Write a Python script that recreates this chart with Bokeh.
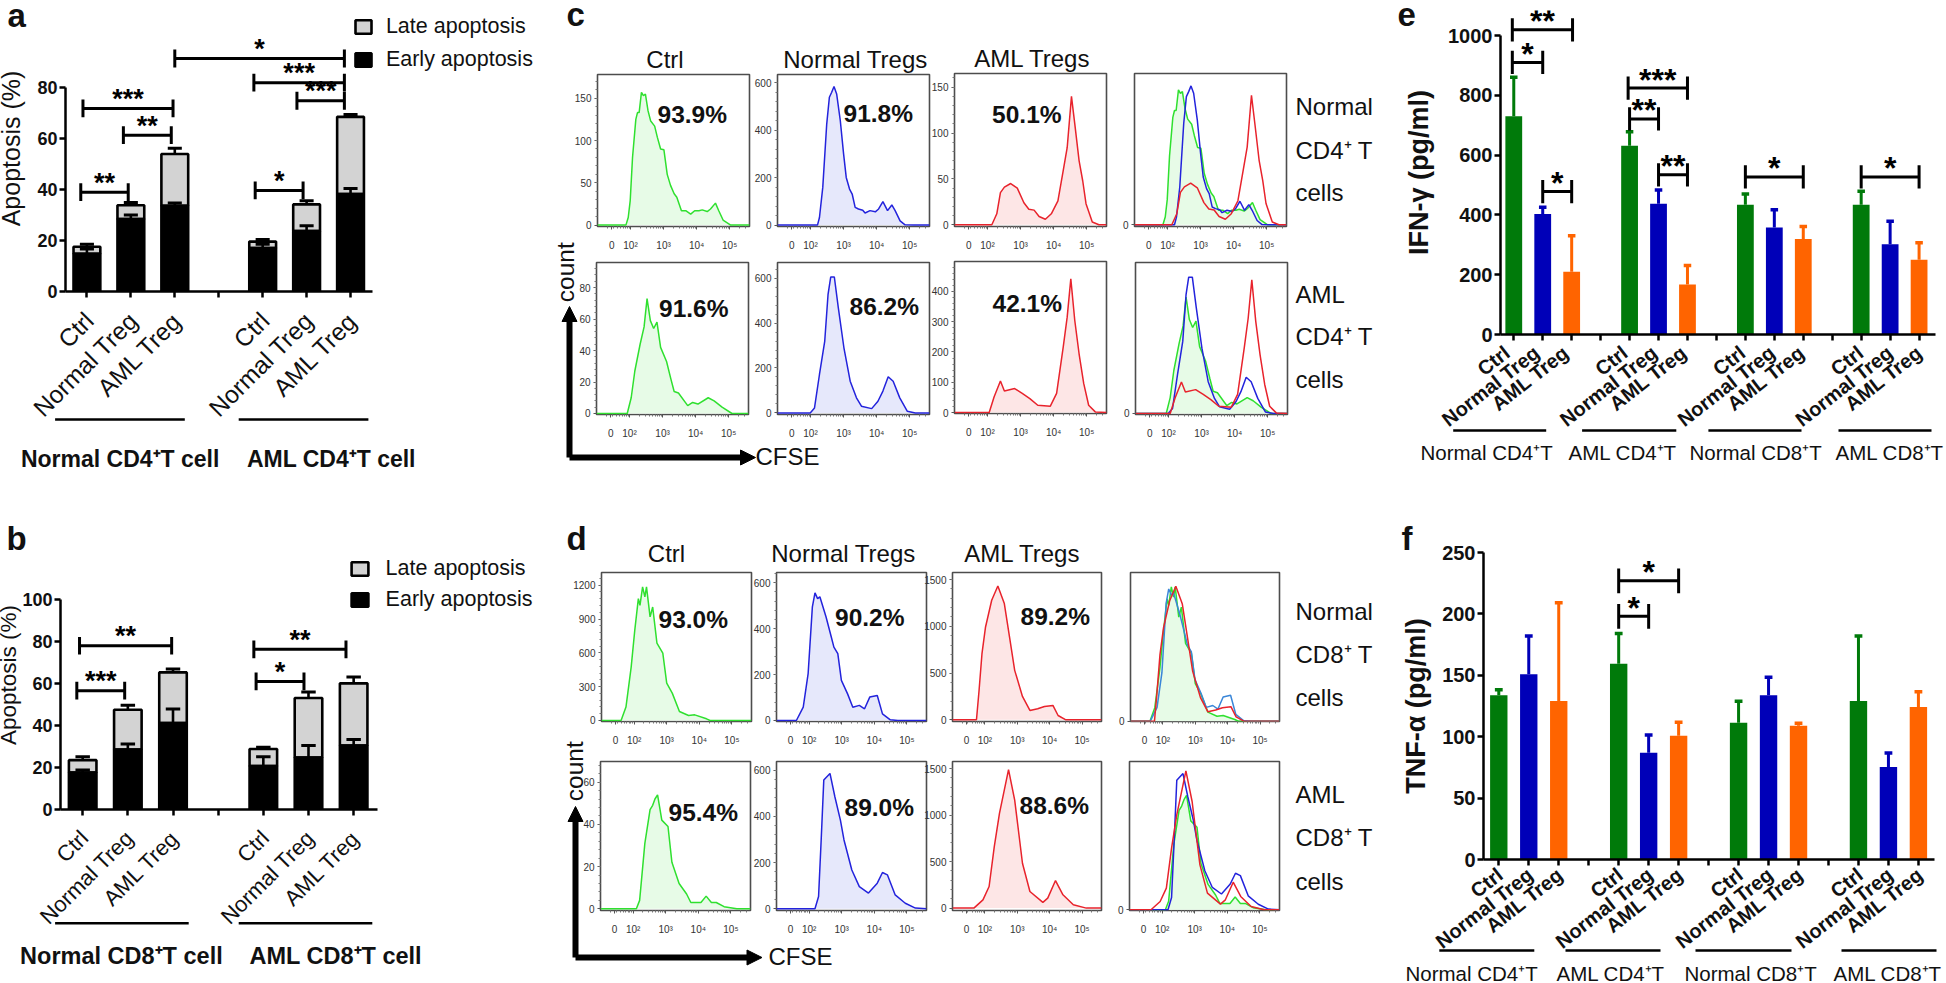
import math
from bokeh.plotting import figure
from bokeh.layouts import column
from bokeh.models import (Range1d, FixedTicker, Legend, LegendItem, Arrow, NormalHead)
from bokeh.core.properties import value
from bokeh.embed import file_html
from bokeh.resources import INLINE

FONT = "Liberation Sans"
PAGE_W, PAGE_H = 1946, 983

# ---------------- panel a / b data ----------------
stack_labels = ["Ctrl", "Normal Treg", "AML Treg", "", "Ctrl", "Normal Treg", "AML Treg"]
stack_pos = [1, 2, 3, 5, 6, 7]
a_early = [14.8, 28.5, 33.7, 17.1, 23.7, 38.3]
a_early_err = [16.7, 30.0, 34.8, 18.6, 25.8, 40.5]
a_total = [17.6, 33.9, 54.0, 19.6, 34.2, 68.6]
a_total_err = [18.6, 35.0, 56.3, 20.4, 35.6, 69.5]
a_brackets = [(3.0, 6.86, 91.5, "*"), (4.8, 6.86, 82.0, "***"), (5.78, 6.86, 74.9, "***"),
              (0.91, 2.96, 71.9, "***"), (1.83, 2.92, 61.4, "**"), (0.86, 1.94, 39.0, "**"),
              (4.83, 5.92, 39.7, "*")]
b_early = [17.6, 28.6, 41.2, 20.7, 24.8, 30.5]
b_early_err = [18.8, 31.2, 47.9, 25.1, 30.5, 33.4]
b_total = [23.5, 47.5, 65.3, 28.8, 53.1, 60.1]
b_total_err = [25.1, 49.6, 66.9, 29.7, 56.0, 63.1]
b_brackets = [(0.93, 2.97, 78.0, "**"), (0.87, 1.93, 56.6, "***"),
              (4.79, 6.83, 76.3, "**"), (4.84, 5.90, 61.0, "*")]

# ---------------- panel e / f data ----------------
cyt_labels = ["Ctrl", "Normal Treg", "AML Treg", ""] * 3 + ["Ctrl", "Normal Treg", "AML Treg"]
cyt_pos = [1, 2, 3, 5, 6, 7, 9, 10, 11, 13, 14, 15]
cyt_colors = ["#007a0a", "#0000b8", "#ff6400"] * 4
e_vals = [730, 403, 210, 631, 437, 167, 434, 358, 319, 434, 302, 250]
e_errs = [860, 426, 330, 678, 483, 231, 470, 417, 361, 479, 379, 307]
e_brackets = [(0.95, 3.03, 1019, "**"), (0.95, 2.0, 910, "*"), (2.0, 3.0, 478, "*"),
              (4.95, 7.0, 824, "***"), (5.0, 6.0, 721, "**"), (6.0, 7.0, 534, "**"),
              (9.0, 11.0, 527, "*"), (13.0, 15.0, 527, "*")]
f_vals = [133.7, 150.8, 129, 159.5, 87, 100.8, 111.4, 133.7, 109, 129, 75.3, 124.2]
f_errs = [138.3, 182, 209, 184, 101.4, 111.7, 128.8, 148.4, 110.9, 182, 86.7, 136.7]
f_brackets = [(5.0, 7.0, 226.9, "*"), (5.0, 6.0, 198, "*")]

# ---------------- flow cytometry curves ----------------
c1_ctrl_x = [1,1.86,1.93,1.99,2.06,2.16,2.21,2.26,2.33,2.39,2.45,2.53,2.61,2.73,2.81,2.91,3.01,3.11,3.21,3.32,3.4,3.54,3.67,3.82,3.94,4.07,4.17,4.32,4.42,4.57,4.67,4.8,5.03,5.6]
c1_ctrl_y = [0,0,9,29,80,125,133,133,157,153,155,135,123,117,104,90,89,60,47,37,33,17,17,13,17,17,18,16,19,26,17,6,0,0]
c1_norm_x = [1,2.21,2.27,2.37,2.49,2.57,2.64,2.71,2.79,2.9,3.0,3.08,3.18,3.26,3.35,3.45,3.58,3.65,3.8,3.96,4.06,4.19,4.33,4.46,4.56,4.71,4.86,5.12,5.6]
c1_norm_y = [0,0,32,159,427,539,560,584,553,441,300,201,152,131,75,68,63,51,61,56,68,99,61,85,61,18,1,0,0]
c1_aml_x = [1,2.13,2.28,2.39,2.51,2.70,2.9,3.1,3.25,3.41,3.56,3.75,3.93,4.13,4.29,4.41,4.54,4.64,4.77,4.88,4.98,5.17,5.37,5.6]
c1_aml_y = [0,0,12,35,41,45,40,24,17,16,9,6,12,26,59,84,140,110,70,48,23,3,0,0]
c2_ctrl_x = [1,1.93,2.05,2.16,2.32,2.44,2.53,2.63,2.73,2.83,2.94,3.12,3.25,3.35,3.48,3.76,3.91,4.07,4.38,4.56,4.8,5.1,5.6]
c2_ctrl_y = [0,0,10,27,44,55,73,59,54,58,42,33,22,14,13,5,7,6,10,8,4,0,0]
c2_norm_x = [1,1.99,2.12,2.27,2.43,2.53,2.61,2.72,2.84,3.01,3.2,3.39,3.54,3.85,4.04,4.19,4.35,4.5,4.7,4.93,5.17,5.6]
c2_norm_y = [0,0,22,171,320,528,605,605,469,290,141,67,30,19,52,97,161,141,67,7,0,0]
c2_aml_x = [1,2.05,2.2,2.39,2.51,2.82,3.05,3.28,3.52,3.9,4.09,4.29,4.41,4.52,4.64,4.77,4.91,5.06,5.26,5.6]
c2_aml_y = [0,0,52,104,71,79,63,46,24,21,63,216,315,442,304,194,96,24,2,0]
d1_ctrl_x = [1,1.6,1.75,1.91,2.02,2.13,2.18,2.26,2.33,2.38,2.49,2.57,2.7,2.88,3.0,3.17,3.39,3.67,3.86,4.22,4.33,5.6]
d1_ctrl_y = [0,0,119,474,800,1081,1022,1185,1096,1185,919,1007,687,598,332,243,80,44,50,15,0,0]
d1_norm_x = [1,1.61,1.82,1.97,2.1,2.18,2.26,2.33,2.52,2.68,2.76,2.88,2.99,3.18,3.34,3.54,3.7,3.86,4.09,4.25,4.49,4.72,5.6]
d1_norm_y = [0,0,58,204,495,556,531,539,451,364,320,291,175,116,58,66,51,102,109,29,3,0,0]
d1_aml_x = [1,1.74,1.82,1.91,2.02,2.21,2.4,2.6,2.76,2.92,3.16,3.39,3.63,3.84,4.1,4.26,4.5,5.6]
d1_aml_y = [0,0,314,707,993,1279,1432,1243,886,529,250,100,118,143,154,46,0,0]
d2_ctrl_x = [1,2.1,2.2,2.36,2.52,2.6,2.67,2.75,2.88,3.07,3.19,3.41,3.64,3.77,4.08,4.24,4.4,4.55,4.79,5.18,5.6]
d2_ctrl_y = [0,0,4,31,47,49,52,54,42,39,22,12,7,3,3,6,3,3,1,0,0]
d2_norm_x = [1,2.18,2.29,2.37,2.45,2.64,2.79,2.96,3.07,3.31,3.54,3.82,4.09,4.25,4.4,4.64,4.95,5.26,5.6]
d2_norm_y = [0,0,53,298,557,586,485,384,298,168,96,68,111,157,147,60,24,3,0]
d2_aml_x = [1,1.66,1.94,2.13,2.29,2.45,2.73,2.92,3.16,3.39,3.79,3.94,4.18,4.41,4.73,5.13,5.6]
d2_aml_y = [0,0,89,232,661,1018,1489,1161,482,179,61,107,296,143,36,0,0]

# overlay peak heights (green, blue, red)
c1_peaks = [101, 104, 97]
c2_peaks = [87, 102, 100]
d1_peaks = [100.5, 99, 101]
d2_peaks = [86, 102.5, 104.5]

flow_x_ticks = [1.43, 2, 3, 4, 5]
flow_x_labels = ["0", "10²", "10³", "10⁴", "10⁵"]

GREEN = ("#2fe02f", "#e7fbe7")
BLUE = ("#2323dc", "#e6e8fb")
STEEL = ("#3a86d8", "#e6e8fb")
RED = ("#e8232c", "#fde6e6")
BASE_FIX = 0.28  # the svg text's alphabetic baseline sits this many em lower than asked


def place(p, L, T, bl, bt):
    p.styles = {"position": "absolute", "left": f"{L - bl:.1f}px", "top": f"{T - bt:.1f}px"}


def base_fig(L, T, R, B, xr, yr, bl, bt, br, bb):
    p = figure(width=int(round(R - L + bl + br)), height=int(round(B - T + bt + bb)),
               x_range=Range1d(*xr), y_range=Range1d(*yr), tools="", toolbar_location=None,
               output_backend="svg", min_border_left=bl, min_border_top=bt,
               min_border_right=br, min_border_bottom=bb, frame_align=False,
               background_fill_alpha=0, border_fill_alpha=0, outline_line_color=None)
    p.xgrid.grid_line_color = None
    p.ygrid.grid_line_color = None
    place(p, L, T, bl, bt)
    return p


def style_bar_axes(p, yticks, ytop, xb, ticks, tick_size, label_size, ytitle, title_size,
                   title_style, title_standoff, lw=2.5):
    ax = p.yaxis[0]
    ax.ticker = FixedTicker(ticks=yticks)
    ax.bounds = (0, ytop)
    ax.axis_label = ytitle
    ax.axis_label_text_font = FONT
    ax.axis_label_text_font_size = title_size
    ax.axis_label_text_font_style = title_style
    ax.axis_label_text_color = "#111111"
    ax.axis_label_standoff = title_standoff
    ax.major_label_text_font = FONT
    ax.major_label_text_font_style = "bold"
    ax.major_label_text_font_size = label_size
    ax.major_label_text_color = "#111111"
    ax.major_label_standoff = 2
    xa = p.xaxis[0]
    xa.ticker = FixedTicker(ticks=ticks)
    xa.bounds = xb
    xa.major_label_text_color = None
    for a in (ax, xa):
        a.axis_line_width = lw
        a.axis_line_color = "#000000"
        a.major_tick_line_width = lw
        a.major_tick_line_color = "#000000"
        a.major_tick_out = tick_size
        a.major_tick_in = 0
        a.minor_tick_line_color = None


def brackets(p, items, cap, star_size, star_off, lw=3):
    for x0, x1, y, s in items:
        p.segment([x0, x0, x1], [y, y - cap, y - cap], [x1, x0, x1], [y, y + cap, y + cap],
                  line_color="#000000", line_width=lw)
        p.text([(x0 + x1) / 2], [y], text=[s], text_font=value(FONT), text_font_style="bold",
               text_font_size=f"{star_size}px", text_align="center", text_baseline="alphabetic",
               text_color="#000000", y_offset=star_off - BASE_FIX * star_size)


def stacked(L, T, R, B, tick1, step, y0px, ytop_px, ytop, yticks, early, early_err, total, total_err,
            br_items, cap, title_size, title_standoff, legend_xy, legend_rows, gw, gap):
    sc = (y0px - ytop_px) / ytop
    xr = (1 + (L - tick1) / step, 1 + (R - tick1) / step)
    yr = (0, (y0px - T) / sc)
    xb = (xr[0], 1 + (legend_xy[2] - tick1) / step)
    p = base_fig(L, T, R, B, xr, yr, 80, 2, 4, 30)
    w = 0.61
    late = p.vbar(stack_pos, w, early, total, fill_color="#d3d3d3", line_color="#000000", line_width=2.6)
    p.segment(stack_pos, total, stack_pos, total_err, line_color="#000000", line_width=2.6)
    p.segment([x - 0.16 for x in stack_pos], total_err, [x + 0.16 for x in stack_pos], total_err,
              line_color="#000000", line_width=3)
    ear = p.vbar(stack_pos, w, 0, early, fill_color="#000000", line_color="#000000", line_width=2.6)
    p.segment(stack_pos, early, stack_pos, early_err, line_color="#000000", line_width=2.6)
    p.segment([x - 0.16 for x in stack_pos], early_err, [x + 0.16 for x in stack_pos], early_err,
              line_color="#000000", line_width=3)
    style_bar_axes(p, yticks, ytop, xb, list(range(1, 8)), 6, "18px", "Apoptosis (%)",
                   title_size, "normal", title_standoff)
    brackets(p, br_items, cap, 27, -2)
    lg = Legend(items=[LegendItem(label="Late apoptosis", renderers=[late]),
                       LegendItem(label="Early apoptosis", renderers=[ear])],
                location=(legend_xy[0], legend_xy[1]), orientation="vertical",
                background_fill_alpha=0, border_line_alpha=0, padding=0, margin=0,
                glyph_width=gw, glyph_height=17, label_standoff=gap, spacing=legend_rows,
                label_text_font=FONT, label_text_font_size="21.5px", label_text_color="#111111",
                label_height=17)
    p.add_layout(lg, "center")
    return p


def cytokine(L, T, R, B, tick1, step, y0px, ytop_px, ytop, yticks, vals, errs, ytitle, br_items, cap, title_standoff):
    sc = (y0px - ytop_px) / ytop
    xr = (1 + (L - tick1) / step, 1 + (R - tick1) / step)
    yr = (0, (y0px - T) / sc)
    p = base_fig(L, T, R, B, xr, yr, 92, 16, 4, 30)
    p.vbar(cyt_pos, 0.58, 0, vals, fill_color=cyt_colors, line_color=None)
    p.segment(cyt_pos, vals, cyt_pos, errs, line_color=cyt_colors, line_width=3)
    p.segment([x - 0.13 for x in cyt_pos], errs, [x + 0.13 for x in cyt_pos], errs,
              line_color=cyt_colors, line_width=3.5)
    style_bar_axes(p, yticks, ytop, xr, list(range(1, 16)), 6, "20px", ytitle, "27px", "bold", title_standoff)
    brackets(p, br_items, cap, 32, 0.5)
    return p


def flow(L, T, R, B, y0, scale, yticks, curves, minor=True):
    yr = (-(B - y0) / scale, (y0 - T) / scale)
    p = base_fig(L, T, R, B, (1.0, 5.6), yr, 36, 4, 4, 34)
    p.outline_line_color = "#4d4d4d"
    p.outline_line_width = 1.6
    for xs, ys, (lc, fc), fill in curves:
        if fill:
            p.varea(xs, [0] * len(xs), ys, fill_color=fc)
    for xs, ys, (lc, fc), fill in curves:
        p.line(xs, ys, line_color=lc, line_width=1.5)
    ax = p.yaxis[0]
    mt = []
    if minor and len(yticks) > 1:
        d = yticks[1] - yticks[0]
        mt = [v * d / 5 for v in range(1, int(yr[1] / d * 5) + 1)]
    ax.ticker = FixedTicker(ticks=yticks, minor_ticks=mt)
    xa = p.xaxis[0]
    xminor = [d + math.log10(k) for d in (1, 2, 3, 4, 5) for k in range(2, 10) if d + math.log10(k) < 5.6]
    xa.ticker = FixedTicker(ticks=flow_x_ticks, minor_ticks=xminor)
    xa.major_label_overrides = {t: l for t, l in zip(flow_x_ticks, flow_x_labels)}
    xa.major_label_standoff = 10
    ax.major_label_standoff = 3
    for a in (ax, xa):
        a.axis_line_color = None
        a.major_tick_line_color = "#555555"
        a.minor_tick_line_color = "#777777"
        a.major_tick_line_width = 1
        a.minor_tick_line_width = 1
        a.major_tick_out = 3
        a.major_tick_in = 0
        a.minor_tick_out = 2
        a.minor_tick_in = 0
        a.major_label_text_font = FONT
        a.major_label_text_font_size = "10px"
        a.major_label_text_color = "#333333"
    return p


def overlay(set3, peaks, blue=BLUE):
    out = []
    for (xs, ys), pk, col in zip(set3, peaks, (GREEN, blue, RED)):
        m = max(ys)
        out.append((xs, [v / m * pk for v in ys], col, col is GREEN))
    return out


# ---------------- background sheet: free text, rules and arrows ----------------
bg = figure(width=PAGE_W, height=PAGE_H, x_range=Range1d(0, PAGE_W), y_range=Range1d(PAGE_H, 0),
            tools="", toolbar_location=None, output_backend="svg", min_border=0, frame_align=False,
            x_axis_location=None, y_axis_location=None,
            outline_line_color=None, background_fill_alpha=0, border_fill_alpha=0)
bg.grid.visible = False
bg.styles = {"position": "absolute", "left": "0px", "top": "0px", "max-width": "none", "max-height": "none",
             "width": f"{PAGE_W}px", "height": f"{PAGE_H}px"}


def t(x, y, s, size, bold=False, align="left", angle=0.0):
    x2 = x - BASE_FIX * size * math.sin(angle)
    y2 = y - BASE_FIX * size * math.cos(angle)
    bg.text([x2], [y2], text=[s], text_font=value(FONT), text_font_size=f"{size}px",
            text_font_style="bold" if bold else "normal", text_align=align,
            text_baseline="alphabetic", text_color="#111111", angle=angle)


def xlabels(tick1, step, y0, labels, size, bold, angle, dx, dy):
    for i, s in enumerate(labels):
        if s:
            t(tick1 + i * step + dx, y0 + dy, s, size, bold, "right", angle)


xlabels(86.8, 43.9, 291, stack_labels, 24.5, False, math.pi / 4, 7, 30)
xlabels(81.8, 45.2, 808.7, stack_labels, 22, False, math.pi / 4, 6.5, 29.5)
xlabels(1506.5, 29.45, 334, cyt_labels, 20, True, math.radians(38), 3.5, 20)
xlabels(1498.6, 30, 859, cyt_labels, 20, True, math.radians(38), 4.5, 17)

for x, y, s in [(7, 24, "a"), (6, 547, "b"), (566, 23, "c"), (566, 547, "d"), (1397, 23, "e"), (1401, 547, "f")]:
    t(x, y, s, 33, True)

for y, x0, x1 in [(419, 54.6, 184.3), (419, 238.2, 367.9), (922.7, 54.6, 188.2), (922.7, 238.2, 371.8),
                  (430, 1452.7, 1545.7), (430, 1581.6, 1675.8), (430, 1707.9, 1801), (430, 1838, 1931),
                  (950, 1438.8, 1533.8), (950, 1565, 1660), (950, 1695, 1791), (950, 1841, 1936)]:
    bg.segment([x0], [y], [x1], [y], line_color="#000000", line_width=2.6)

t(20.4, 465, "Normal CD4⁺T cell", 23, True)
t(246.4, 465, "AML CD4⁺T cell", 23, True)
t(19.6, 961.7, "Normal CD8⁺T cell", 23.5, True)
t(249, 961.7, "AML CD8⁺T cell", 23.5, True)
for x, s in [(1420, "Normal CD4⁺T"), (1568, "AML CD4⁺T"), (1689, "Normal CD8⁺T"), (1835, "AML CD8⁺T")]:
    t(x, 458, s, 20.5)
for x, s in [(1405, "Normal CD4⁺T"), (1556, "AML CD4⁺T"), (1684, "Normal CD8⁺T"), (1833, "AML CD8⁺T")]:
    t(x, 979, s, 20.5)

for cx, y, s in [(664.5, 66, "Ctrl"), (855, 66, "Normal Tregs"), (1032, 65, "AML Tregs"),
                 (666, 560, "Ctrl"), (843, 560, "Normal Tregs"), (1022, 560, "AML Tregs")]:
    t(cx, y, s, 24, False, "center")

for x, y, s in [(657, 121, "93.9%"), (843, 120, "91.8%"), (991.6, 121, "50.1%"),
                (658.5, 315, "91.6%"), (849, 313, "86.2%"), (992, 310, "42.1%"),
                (658, 626, "93.0%"), (834.5, 624.3, "90.2%"), (1020, 622.7, "89.2%"),
                (668, 819.3, "95.4%"), (844, 814.3, "89.0%"), (1019, 812.3, "88.6%")]:
    t(x, y, s, 24.5, True)

for y, s in [(113, "Normal"), (156.7, "CD4⁺ T"), (199, "cells"), (300.7, "AML"), (342.7, "CD4⁺ T"), (386, "cells"),
             (617.3, "Normal"), (660.7, "CD8⁺ T"), (704, "cells"), (800.7, "AML"), (844, "CD8⁺ T"), (887.3, "cells")]:
    t(1295, y, s, 24)

t(572, 301.7, "count", 24.5, False, "left", math.pi / 2)
t(581, 800.7, "count", 24.5, False, "left", math.pi / 2)
t(755, 463, "CFSE", 24)
t(768, 962.7, "CFSE", 24)

for xs, ys, xe, ye in [(569, 457, 569, 306), (569, 457, 755, 457), (575, 957, 575, 806), (575, 957, 761.5, 957)]:
    bg.add_layout(Arrow(end=NormalHead(size=15, fill_color="#000000", line_color="#000000", line_width=1),
                        x_start=xs, y_start=ys, x_end=xe, y_end=ye, line_color="#000000", line_width=6))

# ---------------- the measured panels ----------------
pa = stacked(65.4, 5, 540, 291, 86.8, 43.9, 291, 87.3, 80, [0, 20, 40, 60, 80], a_early, a_early_err, a_total,
             a_total_err, a_brackets, 3.5, "25px", 9, (287.5, 219, 372.5), 8, 20, 13)
pb = stacked(59.6, 540, 540, 808.7, 81.8, 45.2, 808.7, 599, 100, [0, 20, 40, 60, 80, 100], b_early, b_early_err,
             b_total, b_total_err, b_brackets, 4.2, "22.5px", -2, (289, 197, 376.8), 6, 21, 16)
pe = cytokine(1493, 10, 1935.5, 334, 1506.5, 29.45, 334, 35, 1000, [0, 200, 400, 600, 800, 1000], e_vals, e_errs,
              "IFN-γ (pg/ml)", e_brackets, 39, 11)
pf = cytokine(1483.3, 552.3, 1934.7, 859, 1498.6, 30, 859, 552.3, 250, [0, 50, 100, 150, 200, 250], f_vals, f_errs,
              "TNF-α (pg/ml)", f_brackets, 10, 8)

hist = [
    flow(596.7, 74, 748.3, 225.7, 224.3, 0.844, [0, 50, 100, 150], [(c1_ctrl_x, c1_ctrl_y, GREEN, True)]),
    flow(776.8, 74, 928.4, 225.7, 224.3, 0.2367, [0, 200, 400, 600], [(c1_norm_x, c1_norm_y, BLUE, True)]),
    flow(953.9, 73, 1105.9, 225.7, 224, 0.9157, [0, 50, 100, 150], [(c1_aml_x, c1_aml_y, RED, True)]),
    flow(1134, 73, 1286, 225.7, 224, 1.333, [0], overlay([(c1_ctrl_x, c1_ctrl_y), (c1_norm_x, c1_norm_y), (c1_aml_x, c1_aml_y)], c1_peaks), False),
    flow(595.7, 261.7, 747.2, 413.3, 412.3, 1.57, [0, 20, 40, 60, 80], [(c2_ctrl_x, c2_ctrl_y, GREEN, True)]),
    flow(777.3, 261.7, 928.9, 413.3, 411.7, 0.224, [0, 200, 400, 600], [(c2_norm_x, c2_norm_y, BLUE, True)]),
    flow(953.9, 261, 1105.9, 413.3, 412.3, 0.3033, [0, 100, 200, 300, 400], [(c2_aml_x, c2_aml_y, RED, True)]),
    flow(1134.5, 261.7, 1286.5, 413.3, 412.3, 1.333, [0], overlay([(c2_ctrl_x, c2_ctrl_y), (c2_norm_x, c2_norm_y), (c2_aml_x, c2_aml_y)], c2_peaks), False),
    flow(600.8, 572.3, 750.3, 721, 720, 0.1125, [0, 300, 600, 900, 1200], [(d1_ctrl_x, d1_ctrl_y, GREEN, True)]),
    flow(775.8, 572.3, 925.3, 721, 720, 0.229, [0, 200, 400, 600], [(d1_norm_x, d1_norm_y, BLUE, True)]),
    flow(951.8, 572.3, 1100.8, 721, 719.3, 0.0933, [0, 500, 1000, 1500], [(d1_aml_x, d1_aml_y, RED, True)]),
    flow(1130.4, 572.3, 1279.4, 721, 720.7, 1.333, [0], overlay([(d1_ctrl_x, d1_ctrl_y), (d1_norm_x, d1_norm_y), (d1_aml_x, d1_aml_y)], d1_peaks, STEEL), False),
    flow(599.8, 761.3, 749.8, 910.7, 909, 2.117, [0, 20, 40, 60], [(d2_ctrl_x, d2_ctrl_y, GREEN, True)]),
    flow(775.8, 761.3, 925.3, 910.7, 909, 0.2317, [0, 200, 400, 600], [(d2_norm_x, d2_norm_y, BLUE, True)]),
    flow(951.8, 761.3, 1100.8, 910.7, 908.3, 0.0933, [0, 500, 1000, 1500], [(d2_aml_x, d2_aml_y, RED, True)]),
    flow(1129.4, 761.3, 1279, 910.7, 910, 1.333, [0], overlay([(d2_ctrl_x, d2_ctrl_y), (d2_norm_x, d2_norm_y), (d2_aml_x, d2_aml_y)], d2_peaks), False),
]

root = column(bg, pa, pb, pe, pf, *hist, width=1930, height=967, sizing_mode="fixed")
open("out.html", "w").write(file_html(root, INLINE))
